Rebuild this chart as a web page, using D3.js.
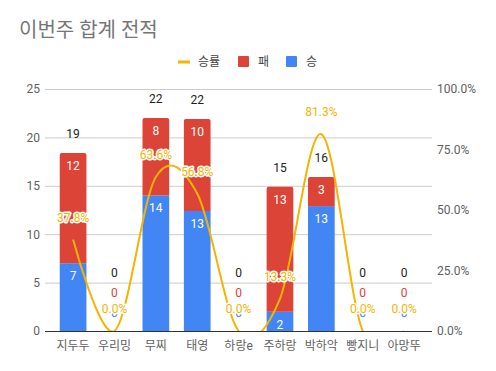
<!DOCTYPE html>
<html>
<head>
<meta charset="utf-8">
<script src="https://cdn.jsdelivr.net/npm/d3@7"></script>
<style>
  body { margin: 0; background: #fff; }
  text { font-family: Roboto, 'Noto Sans CJK KR', sans-serif; }
</style>
</head>
<body>
<script>
// data
var players = ['지두두', '우리밍', '무찌', '태영', '하랑e', '주하랑', '박하악', '빵지니', '아망뚜'];
var wins = [7, 0, 14, 12.4, 0, 2, 12.9, 0, 0];
var losses = [11.4, 0, 8, 9.5, 0, 12.9, 3, 0, 0];
var winLabels = ['7', '0', '14', '13', '0', '2', '13', '0', '0'];
var lossLabels = ['12', '0', '8', '10', '0', '13', '3', '0', '0'];
var totalLabels = ['19', '0', '22', '22', '0', '15', '16', '0', '0'];
var winRate = [37.8, 0, 63.6, 56.8, 0, 13.3, 81.3, 0, 0];
var leftTicks = [0, 5, 10, 15, 20, 25];
var rightTicks = [0, 25, 50, 75, 100];

var W = 496, H = 371,
    plot = { left: 45, right: 432, top: 89, bottom: 331 },
    blue = '#4285f4', red = '#db4437', yellow = '#f4b400';

var svg = d3.select('body').append('svg')
    .attr('width', W)
    .attr('height', H);

var x = d3.scaleBand()
    .domain(players)
    .range([52.5, 424.7])
    .paddingInner(0.355)
    .paddingOuter(0.175);

var y = d3.scaleLinear().domain([0, 25]).range([plot.bottom, plot.top]);
var y2 = d3.scaleLinear().domain([0, 100]).range([plot.bottom, plot.top]);

// title
svg.append('text')
    .attr('x', 19)
    .attr('y', 37)
    .attr('font-size', '20px')
    .attr('fill', '#757575')
    .text('이번주 합계 전적');

// legend
var lg = svg.append('g').attr('font-size', '12px').attr('fill', '#444');
lg.append('rect').attr('x', 178).attr('y', 60.5).attr('width', 12).attr('height', 3).attr('fill', yellow);
lg.append('text').attr('x', 198).attr('y', 66).text('승률');
lg.append('rect').attr('x', 238).attr('y', 56).attr('width', 11).attr('height', 11).attr('rx', 1).attr('fill', red);
lg.append('text').attr('x', 258).attr('y', 66).text('패');
lg.append('rect').attr('x', 286).attr('y', 56).attr('width', 11).attr('height', 11).attr('rx', 1).attr('fill', blue);
lg.append('text').attr('x', 306).attr('y', 66).text('승');

// gridlines
svg.append('g')
    .selectAll('line')
    .data(leftTicks.slice(1))
    .enter().append('line')
    .attr('x1', plot.left).attr('x2', plot.right)
    .attr('y1', function (d) { return y(d) + 0.5; })
    .attr('y2', function (d) { return y(d) + 0.5; })
    .attr('stroke', '#cccccc');

// left axis
var yaxis = d3.axisLeft(y).tickValues(leftTicks).tickSize(0).tickPadding(5);
svg.append('g')
    .attr('transform', 'translate(' + plot.left + ',0)')
    .call(yaxis)
    .call(function (g) {
        g.select('.domain').remove();
        g.selectAll('text').attr('font-size', '12px').attr('fill', '#5f5f5f').attr('font-family', null);
    });

// right axis
var yaxis2 = d3.axisRight(y2).tickValues(rightTicks).tickSize(0).tickPadding(5)
    .tickFormat(function (d) { return d.toFixed(1) + '%'; });
svg.append('g')
    .attr('transform', 'translate(' + plot.right + ',0)')
    .call(yaxis2)
    .call(function (g) {
        g.select('.domain').remove();
        g.selectAll('text').attr('font-size', '12px').attr('fill', '#5f5f5f').attr('font-family', null);
    });

// bars
var bw = x.bandwidth();
svg.append('g').selectAll('rect.win')
    .data(players)
    .enter().append('rect')
    .attr('x', function (d) { return x(d); })
    .attr('y', function (d, i) { return y(wins[i]); })
    .attr('width', bw)
    .attr('height', function (d, i) { return y(0) - y(wins[i]); })
    .attr('fill', blue);

svg.append('g').selectAll('path.loss')
    .data(players)
    .enter().append('path')
    .attr('d', function (d, i) {
        var x0 = x(d), x1 = x0 + bw, yb = y(wins[i]), yt = y(wins[i] + losses[i]), r = 2;
        if (losses[i] === 0) return '';
        return 'M' + x0 + ',' + yb + 'V' + (yt + r) + 'Q' + x0 + ',' + yt + ' ' + (x0 + r) + ',' + yt +
            'H' + (x1 - r) + 'Q' + x1 + ',' + yt + ' ' + x1 + ',' + (yt + r) + 'V' + yb + 'Z';
    })
    .attr('fill', red);

// baseline
svg.append('line')
    .attr('x1', plot.left).attr('x2', plot.right)
    .attr('y1', plot.bottom + 0.5).attr('y2', plot.bottom + 0.5)
    .attr('stroke', '#333');

// x labels
svg.append('g').selectAll('text')
    .data(players)
    .enter().append('text')
    .attr('x', function (d) { return x(d) + bw / 2; })
    .attr('y', 350)
    .attr('text-anchor', 'middle')
    .attr('font-size', '12px')
    .attr('fill', '#5f5f5f')
    .text(function (d) { return d; });

// win rate line, clipped to plot
svg.append('clipPath').attr('id', 'clip')
    .append('rect')
    .attr('x', plot.left).attr('y', 0)
    .attr('width', plot.right - plot.left).attr('height', plot.bottom);

var line = d3.line()
    .x(function (d, i) { return x(players[i]) + bw / 2; })
    .y(function (d) { return y2(d); })
    .curve(d3.curveCardinal.tension(0));

svg.append('path')
    .datum(winRate)
    .attr('clip-path', 'url(#clip)')
    .attr('d', line)
    .attr('fill', 'none')
    .attr('stroke', yellow)
    .attr('stroke-width', 2);

// data labels
var labels = svg.append('g').attr('font-size', '12px').attr('text-anchor', 'middle');
players.forEach(function (p, i) {
    var cx = x(p) + bw / 2, total = wins[i] + losses[i];
    if (total === 0) {
        // zero stacks: labels pile up above the baseline, blue one mostly hidden like the original
        labels.append('text').attr('x', cx).attr('y', y(0) - 14).attr('fill', blue).text(winLabels[i]);
        labels.append('text').attr('x', cx).attr('y', y(0) - 34).attr('fill', red).text(lossLabels[i]);
        labels.append('text').attr('x', cx).attr('y', y(0) - 54).attr('fill', '#222').text(totalLabels[i]);
    } else {
        labels.append('text').attr('x', cx).attr('y', y(wins[i]) + 17).attr('fill', '#fff').text(winLabels[i]);
        labels.append('text').attr('x', cx).attr('y', y(total) + 17).attr('fill', '#fff').text(lossLabels[i]);
        labels.append('text').attr('x', cx).attr('y', y(total) - 15).attr('fill', '#222').text(totalLabels[i]);
    }
});
players.forEach(function (p, i) {
    labels.append('text')
        .attr('x', x(p) + bw / 2)
        .attr('y', y2(winRate[i]) - 18)
        .attr('fill', yellow)
        .attr('stroke', '#fff')
        .attr('stroke-width', 3)
        .attr('stroke-linejoin', 'round')
        .attr('paint-order', 'stroke')
        .text(winRate[i].toFixed(1) + '%');
});
</script>
</body>
</html>
